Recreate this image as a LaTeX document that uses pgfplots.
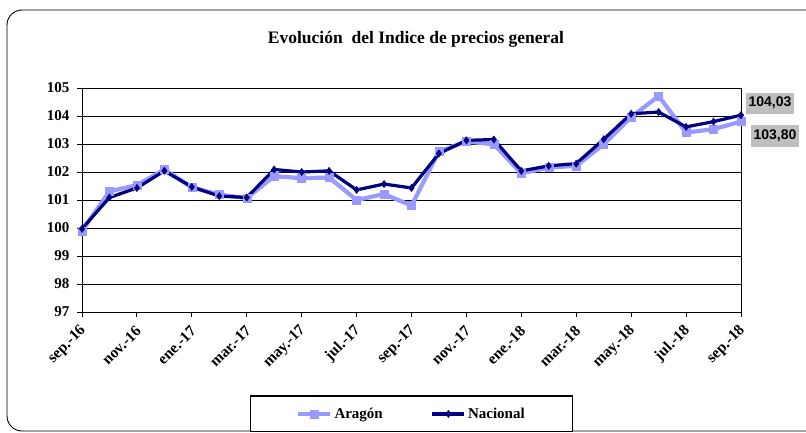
\documentclass[border=0pt]{standalone}
\usepackage{fontspec}
\setmainfont{Liberation Serif}
\newfontfamily\arialfont{Liberation Sans}
\usepackage{pgfplots}
\pgfplotsset{compat=1.18}

\definecolor{aragon}{RGB}{153,153,255}
\definecolor{nacional}{RGB}{0,0,128}

\newcommand{\tk}{\fontsize{15}{15}\selectfont\bfseries}

\begin{document}
\begin{tikzpicture}
  \useasboundingbox (0,0) rectangle (806pt,432pt);
  \clip (0,0) rectangle (806pt,432pt);
  % outer chart frame
  \draw[black, line width=0.9pt, rounded corners=15pt] (7pt,1pt) rectangle (840pt,422pt);
  \node[font=\fontsize{17.5}{17.5}\selectfont\bfseries] at (416pt,393pt)
    {Evolución~ del Indice de precios general};

  \begin{axis}[
    at={(82pt,120pt)}, anchor=south west,
    scale only axis,
    width=659pt, height=224pt,
    xmin=0, xmax=24,
    ymin=97, ymax=105,
    xtick={0,2,...,24},
    xticklabels={sep.-16,nov.-16,ene.-17,mar.-17,may.-17,jul.-17,sep.-17,
                 nov.-17,ene.-18,mar.-18,may.-18,jul.-18,sep.-18},
    ytick={97,98,...,105},
    ymajorgrids,
    grid style={black, line width=0.8pt},
    axis line style={black, line width=1pt},
    tick style={black, line width=1pt},
    tick align=outside,
    major tick length=5pt,
    xtick pos=bottom, ytick pos=left,
    /pgf/number format/assume math mode=true,
    yticklabel style={font=\tk, xshift=-4pt},
    xticklabel style={font=\fontsize{15.5}{15.5}\selectfont\bfseries,
                      xshift=4pt, yshift=-9pt, rotate=45, anchor=east},
    clip=false,
    legend columns=2,
    legend style={
      at={(0.5,-0.455)}, anchor=center,
      draw=black, line width=1.2pt,
      font=\tk,
      inner xsep=46pt, inner ysep=10pt,
      /tikz/every even column/.append style={column sep=46pt},
    },
    legend image code/.code={
      \draw[mark repeat=2, mark phase=2] plot coordinates {(0pt,0pt) (16pt,0pt) (32pt,0pt)};
    },
  ]
    % Aragón
    \addplot[color=aragon, line width=4.2pt, mark=square*, mark size=4pt,
             mark options={solid, fill=aragon, line width=0.5pt}] coordinates {
      (0,99.90) (1,101.31) (2,101.53) (3,102.09) (4,101.45) (5,101.19)
      (6,101.07) (7,101.85) (8,101.78) (9,101.80) (10,101.00) (11,101.21)
      (12,100.80) (13,102.73) (14,103.09) (15,102.99) (16,101.95) (17,102.16)
      (18,102.22) (19,102.99) (20,103.96) (21,104.71) (22,103.41) (23,103.53)
      (24,103.80)
    };
    \addlegendentry{Aragón}

    % Nacional
    \addplot[color=nacional, line width=3.2pt, mark=diamond*, mark size=3.6pt,
             mark options={solid, fill=nacional, line width=0.5pt}] coordinates {
      (0,99.97) (1,101.09) (2,101.43) (3,102.04) (4,101.47) (5,101.14)
      (6,101.09) (7,102.09) (8,102.00) (9,102.04) (10,101.36) (11,101.57)
      (12,101.43) (13,102.66) (14,103.13) (15,103.16) (16,102.04) (17,102.22)
      (18,102.30) (19,103.17) (20,104.08) (21,104.14) (22,103.61) (23,103.80)
      (24,104.03)
    };
    \addlegendentry{Nacional}

    % data labels of the last month
    \node[fill=gray!50, font=\arialfont\bfseries\fontsize{14}{14}\selectfont,
          inner xsep=3pt, inner ysep=4.5pt]
      at (axis cs:24,104.03) [xshift=29pt, yshift=12pt] {104,03};
    \node[fill=gray!50, font=\arialfont\bfseries\fontsize{14}{14}\selectfont,
          inner xsep=3pt, inner ysep=5pt]
      at (axis cs:24,103.80) [xshift=34pt, yshift=-14pt] {103,80};
  \end{axis}
\end{tikzpicture}
\end{document}
